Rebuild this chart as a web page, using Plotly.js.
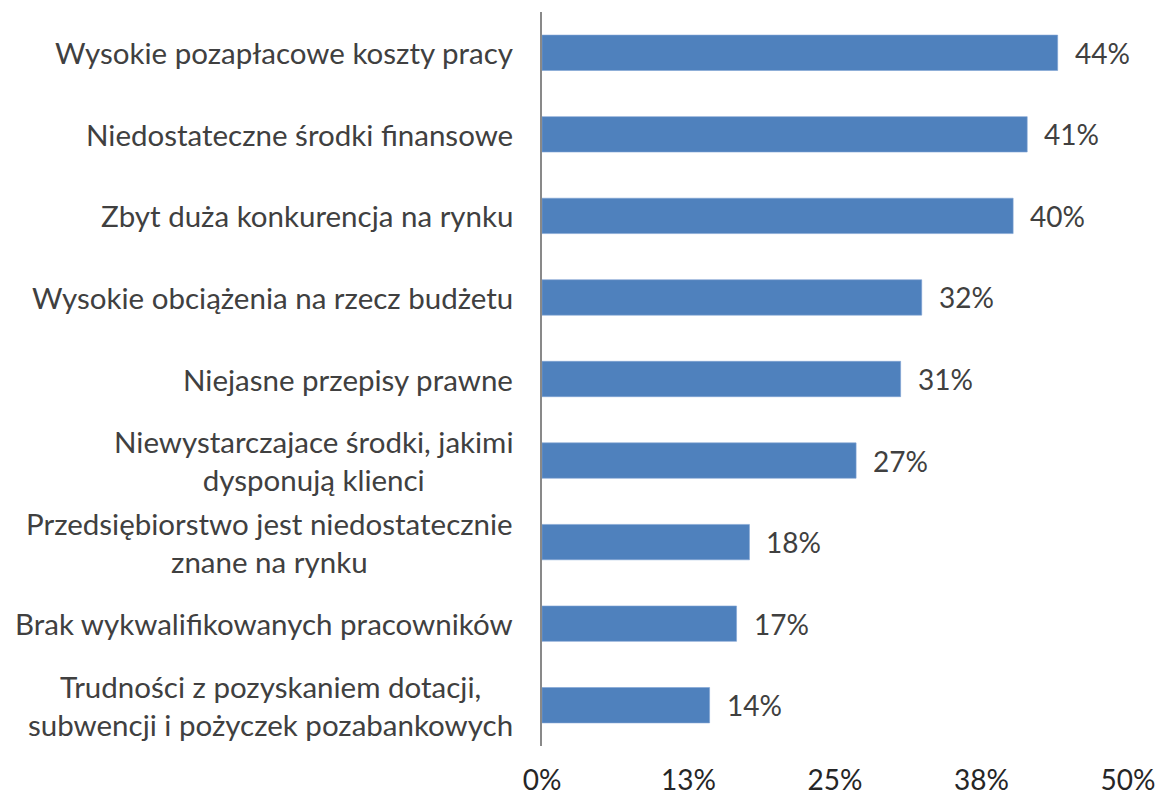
<!DOCTYPE html>
<html>
<head>
<meta charset="utf-8">
<script src="https://cdn.plot.ly/plotly-3.0.1.min.js"></script>
<style>html,body{margin:0;padding:0;background:#fff;}#chart{width:1157px;height:798px;}</style>
</head>
<body>
<div id="chart"></div>
<script>
const categories = [
  "Wysokie pozapłacowe koszty pracy",
  "Niedostateczne środki finansowe",
  "Zbyt duża konkurencja na rynku",
  "Wysokie obciążenia na rzecz budżetu",
  "Niejasne przepisy prawne",
  "Niewystarczajace środki, jakimi<br>dysponują klienci",
  "Przedsiębiorstwo jest niedostatecznie<br>znane na rynku",
  "Brak wykwalifikowanych pracowników",
  "Trudności z pozyskaniem dotacji,<br>subwencji i pożyczek pozabankowych"
];
const values = [0.440, 0.414, 0.402, 0.324, 0.306, 0.268, 0.177, 0.166, 0.143];
const valueLabels = ["44%", "41%", "40%", "32%", "31%", "27%", "18%", "17%", "14%"];
const tickValues = [0, 0.125, 0.25, 0.375, 0.5];
const tickLabels = ["0%", "13%", "25%", "38%", "50%"];

const FONT = "Lato, 'Open Sans', sans-serif";

const trace = {
  type: "bar",
  orientation: "h",
  x: values,
  y: categories,
  marker: {color: "#4F81BD", line: {color: "#7FA3D3", width: 0.6}},
  hoverinfo: "none"
};

const valueAnnotations = values.map((v, i) => ({
  x: v, y: categories[i], xref: "x", yref: "y",
  text: valueLabels[i], showarrow: false,
  xanchor: "left", yanchor: "middle", xshift: 15,
  font: {family: FONT, size: 28, color: "#404040"}
}));

const categoryAnnotations = categories.map((c) => ({
  x: 0, y: c, xref: "paper", yref: "y",
  text: c, showarrow: false,
  xanchor: "right", yanchor: "middle", align: "center", xshift: -27,
  font: {family: FONT, size: 29.5, color: "#404040"}
}));

const layout = {
  width: 1157, height: 798,
  margin: {l: 542, r: 29, t: 12, b: 52},
  paper_bgcolor: "#fff", plot_bgcolor: "#fff",
  showlegend: false,
  bargap: 0.566,
  font: {family: FONT, size: 28, color: "#404040"},
  xaxis: {
    range: [0, 0.5],
    tickvals: tickValues, ticktext: tickLabels,
    showgrid: false, zeroline: false, showline: false,
    ticks: "outside", ticklen: 9, tickcolor: "rgba(0,0,0,0)",
    tickfont: {family: FONT, size: 28, color: "#262626"},
    fixedrange: true
  },
  yaxis: {
    autorange: "reversed",
    showgrid: false, zeroline: false,
    showline: true, linecolor: "#898989", linewidth: 2,
    showticklabels: false, ticks: "",
    fixedrange: true
  },
  annotations: categoryAnnotations.concat(valueAnnotations)
};

Plotly.newPlot("chart", [trace], layout, {displayModeBar: false, staticPlot: true});
</script>
</body>
</html>
